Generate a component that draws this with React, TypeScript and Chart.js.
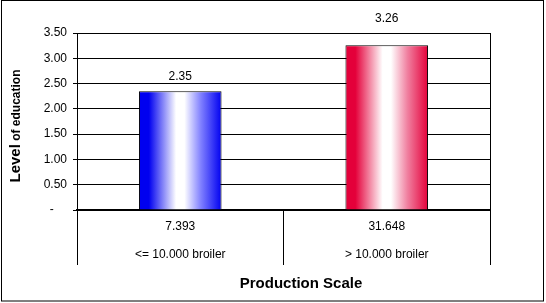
import React, { useEffect, useRef } from "react";
import { Chart, registerables } from "chart.js";

Chart.register(...registerables);

const categories = ["<= 10.000 broiler", "> 10.000 broiler"];
const farmCounts = ["7.393", "31.648"];
const educationLevel = [2.35, 3.26];
const valueLabels = ["2.35", "3.26"];
const yMin = 0;
const yMax = 3.5;
const yStep = 0.5;
const xTitle = "Production Scale";
const yTitleMain = "Level";
const yTitleRest = " of education";

const barColors = [
  { edge: "#0000f0", mid: "#ffffff", soft: "#8080ff" },
  { edge: "#e4003a", mid: "#ffffff", soft: "#f080a0" },
];
const labelOffsets = [14, 26];

export default function App() {
  const ref = useRef<HTMLCanvasElement | null>(null);

  useEffect(() => {
    document.body.style.margin = "0";
    const canvas = ref.current;
    if (!canvas) return;

    const decor = {
      id: "decor",
      afterDraw(chart: any) {
        const ctx = chart.ctx as CanvasRenderingContext2D;
        const area = chart.chartArea;
        ctx.save();
        // outer frame
        ctx.strokeStyle = "#000";
        ctx.lineWidth = 1;
        ctx.strokeRect(1.5, 0.5, 542, 300.5);
        // right plot border
        ctx.beginPath();
        ctx.moveTo(Math.round(area.right) + 0.5, area.top);
        ctx.lineTo(Math.round(area.right) + 0.5, area.bottom);
        ctx.stroke();
        // value labels
        const meta = chart.getDatasetMeta(0);
        ctx.fillStyle = "#000";
        ctx.font = "12px 'Liberation Sans', Arial, sans-serif";
        ctx.textAlign = "center";
        ctx.textBaseline = "middle";
        meta.data.forEach((bar: any, i: number) => {
          ctx.fillText(valueLabels[i], bar.x, bar.y - labelOffsets[i]);
        });
        // x title
        ctx.font = "bold 15px 'Liberation Sans', Arial, sans-serif";
        ctx.fillText(xTitle, 301, 284);
        // y title
        ctx.translate(20, 126);
        ctx.rotate(-Math.PI / 2);
        ctx.textAlign = "left";
        ctx.textBaseline = "alphabetic";
        const f1 = "bold 15px 'Liberation Sans', Arial, sans-serif";
        const f2 = "bold 12px 'Liberation Sans', Arial, sans-serif";
        ctx.font = f1;
        const w1 = ctx.measureText(yTitleMain).width;
        ctx.font = f2;
        const w2 = ctx.measureText(yTitleRest).width;
        const start = -(w1 + w2) / 2;
        ctx.font = f1;
        ctx.fillText(yTitleMain, start, 0);
        ctx.font = f2;
        ctx.fillText(yTitleRest, start + w1, 0);
        ctx.restore();
      },
    };

    const chart = new Chart(canvas, {
      type: "bar",
      data: {
        labels: categories.map((c, i) => [farmCounts[i], c]),
        datasets: [
          {
            data: educationLevel,
            backgroundColor: (context: any) => {
              const ch = context.chart;
              const idx = context.dataIndex;
              const c = barColors[(idx ?? 0) % barColors.length];
              const xs = ch.scales?.x;
              if (!xs || idx === undefined) return c.edge;
              const cw = (xs.right - xs.left) / categories.length;
              const cx = xs.getPixelForValue(idx);
              const hw = (cw * 0.4) / 2;
              if (!isFinite(cx) || !isFinite(hw) || hw <= 0) return c.edge;
              const g = ch.ctx.createLinearGradient(cx - hw, 0, cx + hw, 0);
              g.addColorStop(0, c.edge);
              g.addColorStop(0.12, c.edge);
              g.addColorStop(0.45, c.mid);
              g.addColorStop(0.55, c.mid);
              g.addColorStop(0.75, c.soft);
              g.addColorStop(1, c.edge);
              return g;
            },
            borderColor: "#000",
            borderWidth: 1,
            barPercentage: 0.4,
            categoryPercentage: 1,
          },
        ],
      },
      options: {
        responsive: false,
        animation: false,
        layout: { padding: { top: 33, right: 56, left: 0, bottom: 0 } },
        plugins: {
          legend: { display: false },
          tooltip: { enabled: false },
        },
        scales: {
          x: {
            offset: true,
            grid: {
              offset: true,
              drawOnChartArea: false,
              drawTicks: true,
              tickLength: 55,
              color: "#000",
              lineWidth: 1,
            },
            border: { display: true, color: "#000", width: 2 },
            ticks: {
              color: "#000",
              padding: -52,
              maxRotation: 0,
              font: { family: "'Liberation Sans', Arial, sans-serif", size: 12, lineHeight: "28px" as any },
            },
            afterFit: (scale: any) => {
              scale.height = 93;
            },
          },
          y: {
            min: yMin,
            max: yMax,
            grid: { color: "#000", lineWidth: 1, tickLength: 4, drawTicks: true },
            border: { display: true, color: "#000", width: 1 },
            ticks: {
              stepSize: yStep,
              color: "#000",
              padding: 6,
              font: { family: "'Liberation Sans', Arial, sans-serif", size: 12 },
              callback: (v: any) => (Number(v) === 0 ? "-    " : Number(v).toFixed(2)),
            },
            afterFit: (scale: any) => {
              scale.width = 77;
            },
          },
        },
      },
      plugins: [decor],
    });

    return () => chart.destroy();
  }, []);

  return (
    <div style={{ width: 546, height: 303, background: "#fff" }}>
      <canvas ref={ref} width={546} height={303} />
    </div>
  );
}
